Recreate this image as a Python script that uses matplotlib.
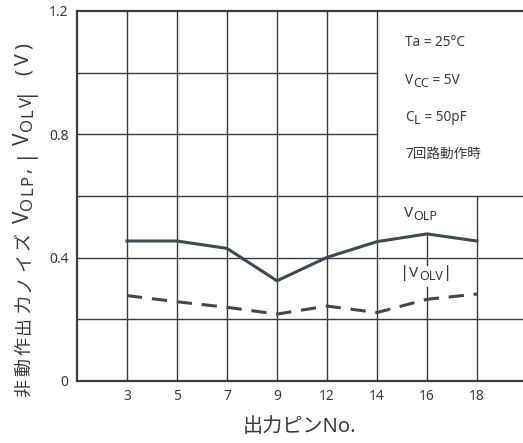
import matplotlib
matplotlib.use("Agg")
import matplotlib.pyplot as plt

plt.rcParams['font.family'] = ['Noto Sans', 'Noto Sans CJK JP', 'DejaVu Sans']

# data
pins = ['3', '5', '7', '9', '12', '14', '16', '18']
v_olp = [0.454, 0.454, 0.43, 0.325, 0.401, 0.452, 0.477, 0.454]
v_olv = [0.277, 0.257, 0.239, 0.217, 0.243, 0.222, 0.265, 0.282]
y_ticks = [0, 0.4, 0.8, 1.2]
y_ticklabels = ['0', '0.4', '0.8', '1.2']

txt = '#3a3a3a'
grid_c = '#3c3c3c'
line_c = '#3d4a52'


def chain(ax, x, y, pieces, rotation=0, color=txt):
    # pieces: (text, fontsize, gap_pt, lower_pt); each placed after the previous one
    if rotation == 0:
        prev = ax.text(x, y, pieces[0][0], fontsize=pieces[0][1], color=color,
                       ha='left', va='baseline')
        for s, fs, gap, low in pieces[1:]:
            prev = ax.annotate(s, xy=(1, y), xycoords=(prev, 'data'),
                               xytext=(gap, -low), textcoords='offset points',
                               fontsize=fs, color=color, ha='left', va='baseline')
    else:
        prev = ax.annotate(pieces[0][0], xy=(x, y), xycoords='figure pixels',
                           fontsize=pieces[0][1], color=color, rotation=90,
                           rotation_mode='anchor', ha='left', va='baseline')
        for s, fs, gap, low in pieces[1:]:
            prev = ax.annotate(s, xy=(x, 1), xycoords=('figure pixels', prev),
                               xytext=(low, gap), textcoords='offset points',
                               fontsize=fs, color=color, rotation=90,
                               rotation_mode='anchor', ha='left', va='baseline')
    return prev


fig = plt.figure(figsize=(5.23, 4.43), dpi=100)
ax = fig.add_axes([77/523, 62/443, 446/523, 370/443])

xs = list(range(1, len(pins) + 1))
ax.set_xlim(0, 8.92)
ax.set_ylim(0, 1.2)

# grid, with the gaps of the original
for i, x in enumerate(xs):
    if pins[i] == '16':
        ax.axvline(x, ymin=0, ymax=0.305/1.2, color=grid_c, lw=1.0, zorder=1)
        ax.axvline(x, ymin=0.376/1.2, ymax=0.48/1.2, color=grid_c, lw=1.0, zorder=1)
    elif pins[i] == '18':
        ax.axvline(x, ymin=0, ymax=0.5, color=grid_c, lw=1.0, zorder=1)
    else:
        ax.axvline(x, color=grid_c, lw=1.0, zorder=1)
for y in [0.2, 0.4, 0.6, 0.8, 1.0]:
    if y > 0.7:
        ax.axhline(y, xmin=0, xmax=6/8.92, color=grid_c, lw=1.0, zorder=1)
    else:
        ax.axhline(y, color=grid_c, lw=1.0, zorder=1)

ax.plot(xs, v_olp, color=line_c, lw=2.2, zorder=3)
ax.plot(xs, v_olv, color=line_c, lw=2.2, ls=(0, (5, 3.2)), zorder=3)

# series labels
chain(ax, 6.53, 0.532, [('V', 11, 0, 0), ('OLP', 9, 0.3, 2)])
chain(ax, 6.46, 0.337, [('|', 12, 0, 0), ('V', 11, 0, 0), ('OLV', 9, 0.3, 2), ('|', 12, 0, 0)])

# measurement conditions
chain(ax, 6.56, 1.087, [('Ta = 25°C', 9.8, 0, 0)])
chain(ax, 6.56, 0.962, [('V', 9.8, 0, 0), ('CC', 9, 0.2, 2), (' = 5V', 9.8, 0, 0)])
chain(ax, 6.56, 0.842, [('C', 9.8, 0, 0), ('L', 9, 0.2, 2), (' = 50pF', 9.8, 0, 0)])
chain(ax, 6.56, 0.722, [('7回路動作時', 9.8, 0, 0)])

ax.set_xticks(xs)
ax.set_xticklabels(pins)
ax.set_yticks(y_ticks)
ax.set_yticklabels(y_ticklabels)
ax.tick_params(length=0, labelsize=10, colors=txt, pad=6)

for s in ['left', 'bottom', 'top']:
    ax.spines[s].set_color(grid_c)
    ax.spines[s].set_linewidth(1.6)
ax.spines['right'].set_visible(False)

ax.set_xlabel('出力ピンNo.', fontsize=14.5, color=txt, labelpad=9)

# y label built piece by piece, running bottom to top
ylab = [(c, 13, 2.2 if i else 0, 0) for i, c in enumerate('非動作出力ノイズ')]
ylab += [('V', 15, 6, 0), ('O', 12, 0.8, 2.5), ('L', 12, 1.2, 2.5), ('P', 12, 1.2, 2.5),
         (',', 14, 1, 0),
         ('|', 15, 7, 0), ('V', 15, 1.2, 0), ('O', 12, 0.8, 2.5), ('L', 12, 1.2, 2.5),
         ('V', 12, 0.3, 2.5), ('|', 15, 1.2, 0),
         ('(', 14, 7, 0), ('V', 14, 3, 0), (')', 14, 3, 0)]
chain(ax, 29, 443 - 397, ylab, rotation=90)

fig.savefig('out.png', dpi=100)
